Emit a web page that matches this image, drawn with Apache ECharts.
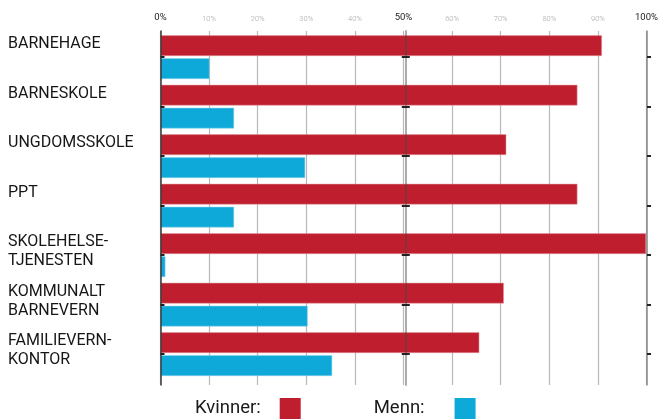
<!DOCTYPE html>
<html>
<head>
<meta charset="utf-8">
<script src="https://cdn.jsdelivr.net/npm/echarts@6/dist/echarts.min.js"></script>
<style>
  html, body { margin: 0; padding: 0; background: #fff; }
  #chart { width: 661px; height: 420px; }
</style>
</head>
<body>
<div id="chart"></div>
<script>
const categories = ['BARNEHAGE', 'BARNESKOLE', 'UNGDOMSSKOLE', 'PPT', 'SKOLEHELSE-\nTJENESTEN', 'KOMMUNALT\nBARNEVERN', 'FAMILIEVERN-\nKONTOR'];
const women = [90, 85, 70.5, 85, 99, 70, 65];
const men = [10, 15, 29.5, 15, 1, 30, 35];
const seriesNames = ['Kvinner', 'Menn'];
const majorTicks = [0, 50, 100];

const FONT = 'Roboto';
const RED = '#BE1E2D';
const BLUE = '#0FA9D9';

const chart = echarts.init(document.getElementById('chart'), null, { renderer: 'canvas' });

const gLeft = 160.5, gRight = 10;
const option = {
  animation: false,
  textStyle: { fontFamily: FONT },
  grid: [
    { left: gLeft, right: gRight, top: 31, bottom: 35 },
    { left: gLeft, right: gRight, top: 32.4, height: 346.5 },
    { left: gLeft, right: gRight, top: 9.6, height: 346.5 }
  ],
  xAxis: [
    {
      gridIndex: 0, type: 'value', min: 0, max: 100, interval: 10, position: 'top',
      axisLine: { show: false }, axisTick: { show: false },
      splitLine: { show: true, lineStyle: { color: '#b8b8b8', width: 1.2 } },
      axisLabel: {
        margin: 8, verticalAlign: 'bottom',
        formatter: function (v) {
          return majorTicks.indexOf(v) >= 0 ? '{b|' + v + '%}' : '{s|' + v + '%}';
        },
        rich: {
          b: { fontSize: 9.5, color: '#1e1e1e', fontFamily: FONT },
          s: { fontSize: 7.5, color: '#a8a8a8', fontFamily: FONT, fontWeight: 300 }
        }
      }
    },
    { gridIndex: 1, type: 'value', min: 0, max: 100, show: false },
    { gridIndex: 2, type: 'value', min: 0, max: 100, show: false }
  ],
  yAxis: [
    { gridIndex: 0, type: 'category', inverse: true, data: categories, position: 'left', z: 5,
      axisLine: { show: true, lineStyle: { color: '#3a3a3a', width: 1.5 } },
      axisTick: { show: false }, axisLabel: { show: false }, splitLine: { show: false } },
    { gridIndex: 0, type: 'category', inverse: true, data: categories, position: 'right', z: 5,
      axisLine: { show: true, lineStyle: { color: '#8a8a8a', width: 1.5 } },
      axisTick: { show: false }, axisLabel: { show: false } },
    { gridIndex: 0, type: 'category', inverse: true, data: categories, position: 'left', offset: -245.25, z: 10,
      axisLine: { show: true, lineStyle: { color: 'rgba(70,70,70,0.45)', width: 2 } },
      axisTick: { show: false }, axisLabel: { show: false } },
    { gridIndex: 1, type: 'category', inverse: true, data: categories, position: 'left', z: 10,
      axisLine: { show: false },
      axisTick: { show: true, alignWithLabel: true, inside: true, length: 4, lineStyle: { color: '#222', width: 2 } },
      axisLabel: { show: false } },
    { gridIndex: 1, type: 'category', inverse: true, data: categories, position: 'right', z: 10,
      axisLine: { show: false },
      axisTick: { show: true, alignWithLabel: true, inside: true, length: 4, lineStyle: { color: '#222', width: 2 } },
      axisLabel: { show: false } },
    { gridIndex: 1, type: 'category', inverse: true, data: categories, position: 'left', offset: -241.25, z: 10,
      axisLine: { show: false },
      axisTick: { show: true, alignWithLabel: true, inside: true, length: 8, lineStyle: { color: '#222', width: 2 } },
      axisLabel: { show: false } },
    { gridIndex: 2, type: 'category', inverse: true, data: categories, position: 'left',
      axisLine: { show: false }, axisTick: { show: false },
      axisLabel: { show: true, align: 'left', verticalAlign: 'top', margin: 152.5,
        fontSize: 16, lineHeight: 19.3, color: '#161616', fontFamily: FONT } }
  ],
  legend: {
    data: seriesNames, left: 190, top: 393, align: 'right', icon: 'rect',
    itemWidth: 21, itemHeight: 21, itemGap: 73,
    itemStyle: { borderWidth: 0 },
    formatter: function (n) { return (n === seriesNames[0] ? '{k|' : '{m|') + n + ':}'; },
    textStyle: { rich: {
      k: { fontSize: 18.5, color: '#1a1a1a', fontFamily: FONT, padding: [0, 14, 0, 0] },
      m: { fontSize: 18.5, color: '#1a1a1a', fontFamily: FONT, padding: [0, 25, 0, 0] }
    } }
  },
  series: [
    { type: 'bar', xAxisIndex: 0, yAxisIndex: 0, data: [], silent: true },
    { name: seriesNames[0], type: 'bar', xAxisIndex: 1, yAxisIndex: 3, data: women,
      barWidth: 20.7, barGap: '11%',
      itemStyle: { color: RED, borderColor: 'rgba(230,150,160,0.9)', borderWidth: 0.6 } },
    { name: seriesNames[1], type: 'bar', xAxisIndex: 1, yAxisIndex: 3, data: men,
      barWidth: 20.7, barGap: '11%',
      itemStyle: { color: BLUE, borderColor: 'rgba(140,210,235,0.9)', borderWidth: 0.6 } }
  ]
};
chart.setOption(option);
</script>
</body>
</html>
